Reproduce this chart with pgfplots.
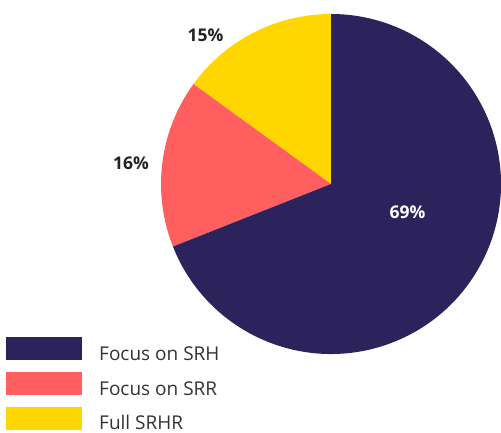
\documentclass[border=0pt]{standalone}
\usepackage{pgfplots}
\pgfplotsset{compat=1.18}
\usepackage{fontspec}
\setmainfont{Open Sans}
\definecolor{srh}{HTML}{2D235C}
\definecolor{srr}{HTML}{FF5F5F}
\definecolor{full}{HTML}{FFD600}
\definecolor{txt}{HTML}{333333}
\definecolor{lab}{HTML}{222222}
% shares (percent)
\def\vSRH{69}
\def\vSRR{16}
\def\vFULL{15}
\begin{document}
\begin{tikzpicture}[x=1pt,y=1pt]
\useasboundingbox (0,0) rectangle (501,432);
\begin{axis}[at={(331pt,248pt)}, anchor=center, scale only axis,
  width=340pt, height=340pt, xmin=-1, xmax=1, ymin=-1, ymax=1,
  hide axis, clip=false]
\pgfmathsetmacro{\aA}{90}
\pgfmathsetmacro{\aB}{90+3.6*\vFULL}
\pgfmathsetmacro{\aC}{\aB+3.6*\vSRR}
\pgfmathsetmacro{\aD}{\aC+3.6*\vSRH}
\fill[full] (axis cs:0,0) -- ++(\aA:170pt) arc[start angle=\aA, end angle=\aB, radius=170pt] -- cycle;
\fill[srr] (axis cs:0,0) -- ++(\aB:170pt) arc[start angle=\aB, end angle=\aC, radius=170pt] -- cycle;
\fill[srh] (axis cs:0,0) -- ++(\aC:170pt) arc[start angle=\aC, end angle=\aD, radius=170pt] -- cycle;
\end{axis}
\tikzset{pct/.style={anchor=base, inner sep=0pt, font=\fontsize{17.5}{20}\selectfont\bfseries}}
\node[pct, text=lab] at (205.5,390) {15\%};
\node[pct, text=lab] at (131,262) {16\%};
\node[pct, text=white] at (407.5,214) {69\%};
\fill[srh] (6,72) rectangle (82,95);
\fill[srr] (6,37) rectangle (82,60);
\fill[full] (6,2) rectangle (82,25);
\tikzset{leg/.style={anchor=base west, inner sep=0pt, font=\fontsize{19}{22}\selectfont, text=txt}}
\node[leg] at (99,72) {Focus on SRH};
\node[leg] at (99,37) {Focus on SRR};
\node[leg] at (99,3) {Full SRHR};
\end{tikzpicture}
\end{document}
